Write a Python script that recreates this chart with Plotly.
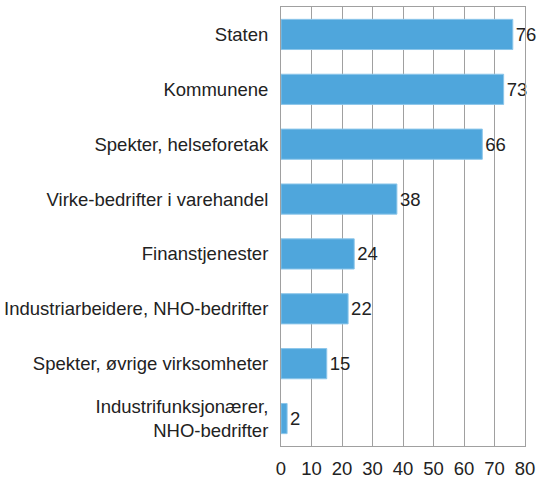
import plotly.graph_objects as go

categories = [
    "Staten",
    "Kommunene",
    "Spekter, helseforetak",
    "Virke-bedrifter i varehandel",
    "Finanstjenester",
    "Industriarbeidere, NHO-bedrifter",
    "Spekter, øvrige virksomheter",
    "Industrifunksjonærer,<br>NHO-bedrifter",
]
values = [76, 73, 66, 38, 24, 22, 15, 2]
x_ticks = [0, 10, 20, 30, 40, 50, 60, 70, 80]

fig = go.Figure(
    go.Bar(
        x=values,
        y=categories,
        orientation="h",
        width=0.55,
        marker=dict(color="#4fa6dc", line=dict(color="#8cc6ea", width=1)),
        text=[str(v) for v in values],
        textposition="outside",
        textfont=dict(size=18.5, color="#222222"),
        cliponaxis=False,
    )
)

fig.update_layout(
    width=540,
    height=484,
    margin=dict(l=281, r=15, t=7, b=38, autoexpand=False),
    plot_bgcolor="white",
    paper_bgcolor="white",
    font=dict(family="Liberation Sans, Arial, sans-serif", size=18.5, color="#222222"),
    showlegend=False,
    xaxis=dict(
        range=[0, 80],
        tickvals=x_ticks,
        showgrid=True,
        gridcolor="#a0a0a0",
        gridwidth=1,
        showline=True,
        linecolor="#a0a0a0",
        mirror=True,
        zeroline=False,
        ticks="",
        tickfont=dict(size=18.5),
        ticklabelstandoff=6,
        automargin=False,
    ),
    yaxis=dict(
        categoryorder="array",
        categoryarray=categories[::-1],
        showgrid=False,
        showline=True,
        linecolor="#a0a0a0",
        mirror=True,
        ticks="",
        ticklabelstandoff=8,
        automargin=False,
    ),
)

# drop the default body margin so the figure fills the window
fig.write_html(
    "out.html",
    config={"displayModeBar": False},
    post_script="document.body.style.margin = '0';",
)
